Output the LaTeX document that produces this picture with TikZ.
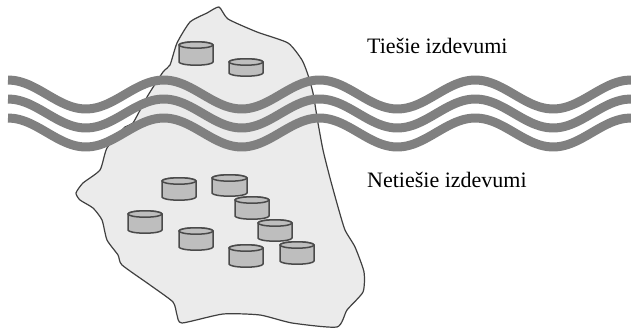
\documentclass[tikz,border=0pt]{standalone}
\usepackage{fontspec}
\setmainfont{Liberation Serif}
\definecolor{blobfill}{HTML}{EBEBEB}
\definecolor{blobline}{HTML}{404040}
\definecolor{drumfill}{HTML}{BEBEBE}
\definecolor{drumline}{HTML}{4A4A4A}
\definecolor{wavegray}{HTML}{808080}
\tikzset{
  blob/.style={fill=blobfill,draw=blobline,line width=1.2pt,line join=round},
  drumbody/.style={fill=drumfill,draw=drumline,line width=1.5pt,line join=round},
  wave/.style={draw=wavegray,line width=9pt},
  label/.style={anchor=base west,inner sep=0pt,font=\fontsize{22}{24}\selectfont}
}
% drum: left x, right x, top-centre y, bottom-centre y
\newcommand{\drum}[4]{%
  \pgfmathsetmacro{\cx}{(#1+#2)/2}%
  \pgfmathsetmacro{\rx}{(#2-#1)/2}%
  \draw[drumbody] (#1,#3) -- (#1,#4) arc[start angle=180,end angle=0,x radius=\rx,y radius=3.2] -- (#2,#3)
     arc[start angle=0,end angle=-180,x radius=\rx,y radius=3.2] -- cycle;
  \draw[drumbody] (\cx,#3) ellipse[x radius=\rx,y radius=3.2];
}
\newcommand{\wavy}[1]{%
  \draw[wave] plot[smooth,domain=8:631,samples=90] (\x,{#1-14.5*cos((\x-8)/155.75*360)});
}
\begin{document}
\begin{tikzpicture}[x=1pt,y=-1pt]
\useasboundingbox (0,0) rectangle (631,328);
\draw[blob] plot[smooth cycle,tension=0.35] coordinates {
 (219,7) (228,19) (257,32) (288,43) (302,60) (308,75) (313,93) (318,123) (323,150) (330,178)
 (338,207) (345,230) (355,247) (364,272) (363,292) (347,310) (337,327) (292,323) (260,315)
 (223,314) (182,323) (177,315) (173,302) (150,285) (122,265) (118,255) (107,240) (102,220)
 (93,208) (80,200) (76,193) (83,183) (100,170) (107,148) (125,127) (133,123) (147,97)
 (163,72) (170,65) (177,43) (190,22) (207,13)};
\drum{179}{213}{45}{62}
\drum{229}{263}{62}{73}
\drum{162}{196}{181}{197}
\drum{212}{247}{178}{193}
\drum{235}{269}{200}{216}
\drum{258}{292}{223}{238}
\drum{280}{314}{245}{261}
\drum{229}{263}{248}{264}
\drum{179}{213}{231}{247}
\drum{128}{162}{214}{230}
\wavy{94.5}
\wavy{113.5}
\wavy{132.5}
\node[label] (direct) at (367,54) {Tiešie izdevumi};
\node[label] (indirect) at (367,188) {Netiešie izdevumi};
\end{tikzpicture}
\end{document}
